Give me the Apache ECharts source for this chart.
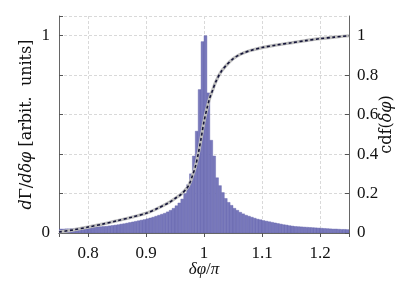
<!DOCTYPE html>
<html>
<head>
<meta charset="utf-8">
<script src="https://cdn.jsdelivr.net/npm/echarts@6/dist/echarts.min.js"></script>
<style>html,body{margin:0;padding:0;background:#fff}#c{width:408px;height:285px}</style>
</head>
<body>
<div id="c"></div>
<script>
// Histogram bin centres (δφ/π) and heights [arbit. units]
const binWidth = 0.005;
const binCenters = [
0.7525,0.7575,0.7625,0.7675,0.7725,0.7775,0.7825,0.7875,0.7925,0.7975,
0.8025,0.8075,0.8125,0.8175,0.8225,0.8275,0.8325,0.8375,0.8425,0.8475,
0.8525,0.8575,0.8625,0.8675,0.8725,0.8775,0.8825,0.8875,0.8925,0.8975,
0.9025,0.9075,0.9125,0.9175,0.9225,0.9275,0.9325,0.9375,0.9425,0.9475,
0.9525,0.9575,0.9625,0.9675,0.9725,0.9775,0.9825,0.9875,0.9925,0.9975,
1.0025,1.0075,1.0125,1.0175,1.0225,1.0275,1.0325,1.0375,1.0425,1.0475,
1.0525,1.0575,1.0625,1.0675,1.0725,1.0775,1.0825,1.0875,1.0925,1.0975,
1.1025,1.1075,1.1125,1.1175,1.1225,1.1275,1.1325,1.1375,1.1425,1.1475,
1.1525,1.1575,1.1625,1.1675,1.1725,1.1775,1.1825,1.1875,1.1925,1.1975,
1.2025,1.2075,1.2125,1.2175,1.2225,1.2275,1.2325,1.2375,1.2425,1.2475];
const binHeights = [
0.020,0.020,0.021,0.021,0.022,0.023,0.024,0.025,0.026,0.027,
0.028,0.029,0.030,0.031,0.032,0.033,0.034,0.036,0.038,0.040,
0.042,0.045,0.047,0.050,0.053,0.056,0.059,0.062,0.065,0.068,
0.072,0.076,0.080,0.085,0.090,0.095,0.100,0.107,0.115,0.125,
0.138,0.152,0.172,0.200,0.245,0.300,0.390,0.516,0.727,0.970,
1.000,0.710,0.470,0.390,0.280,0.240,0.205,0.175,0.155,0.140,
0.125,0.115,0.105,0.097,0.090,0.085,0.080,0.075,0.070,0.067,
0.063,0.060,0.057,0.054,0.051,0.048,0.045,0.042,0.040,0.037,
0.035,0.033,0.032,0.031,0.030,0.029,0.028,0.027,0.026,0.025,
0.024,0.023,0.022,0.021,0.020,0.020,0.019,0.018,0.018,0.017];
// cumulative distribution
const cdfX = [0.75,0.775,0.80,0.825,0.85,0.875,0.90,0.92,0.94,0.95,0.96,0.97,0.975,0.98,0.985,0.99,0.995,1.00,1.005,1.01,1.015,1.02,1.03,1.04,1.05,1.06,1.07,1.08,1.10,1.125,1.15,1.175,1.20,1.225,1.25];
const cdfY = [0.005,0.016,0.030,0.045,0.062,0.080,0.100,0.125,0.155,0.175,0.195,0.225,0.250,0.290,0.335,0.400,0.480,0.565,0.630,0.685,0.725,0.765,0.820,0.855,0.883,0.902,0.915,0.925,0.940,0.953,0.964,0.975,0.985,0.993,1.000];
const leftTickLabels = ['0','1'];

const FONT = '"Liberation Serif","DejaVu Serif",serif';
const NFONT = '"DejaVu Serif","Liberation Serif",serif';
const histData = binCenters.map((x,i)=>[x,binHeights[i]]);
const cdfData = cdfX.map((x,i)=>[x,cdfY[i]]);

const chart = echarts.init(document.getElementById('c'), null, {renderer:'canvas'});
const gridLine = {show:true, lineStyle:{color:'#d9d9d9', type:[3,2], width:1}};
const frame = {show:true, lineStyle:{color:'#666', width:1}};
const tick = {show:true, inside:true, length:4, lineStyle:{color:'#555'}};
chart.setOption({
  animation:false,
  grid:{left:59,right:59,top:16,bottom:52, containLabel:false, outerBoundsMode:'none'},
  xAxis:[{
    type:'value', min:0.75, max:1.25, splitNumber:5, position:'bottom',
    axisLine:frame, axisTick:tick, splitLine:gridLine,
    axisLabel:{showMinLabel:false, showMaxLabel:false, color:'#111', fontFamily:FONT, fontSize:17, margin:12,
      formatter:v=>String(+v.toFixed(2))},
    name:'{i|δφ}/{i|π}', nameLocation:'middle', nameGap:28, nameMoveOverlap:false,
    nameTextStyle:{color:'#111', fontFamily:FONT, fontSize:17, rich:{i:{fontStyle:'italic', fontFamily:FONT, fontSize:17, color:'#111'}}}
  },{
    type:'value', min:0.75, max:1.25, splitNumber:5, position:'top',
    axisLine:frame, axisTick:tick, splitLine:{show:false}, axisLabel:{show:false}
  }],
  yAxis:[{
    type:'value', min:0, max:1.1, interval:0.2, position:'left',
    axisLine:frame, axisTick:tick, splitLine:gridLine,
    axisLabel:{color:'#111', fontFamily:FONT, fontSize:17, margin:9,
      formatter:v=>{ if(Math.abs(v)<1e-9) return leftTickLabels[0]; if(Math.abs(v-1)<1e-9) return leftTickLabels[1]; return ''; }},
    name:'{i|d}Γ/{i|dδφ} [arbit.  units]', nameLocation:'middle', nameGap:24, nameRotate:90, nameMoveOverlap:false,
    nameTextStyle:{color:'#111', fontFamily:NFONT, fontSize:16, rich:{i:{fontStyle:'italic', fontFamily:NFONT, fontSize:16, color:'#111'}}}
  },{
    type:'value', min:0, max:1.1, interval:0.2, position:'right',
    axisLine:frame, axisTick:tick, splitLine:{show:false},
    axisLabel:{color:'#111', fontFamily:FONT, fontSize:17, margin:8, showMaxLabel:false,
      formatter:v=> v>1.05 ? '' : String(+v.toFixed(1))},
    name:'cdf({i|δφ})', nameLocation:'middle', nameGap:30, nameRotate:90, nameMoveOverlap:false,
    nameTextStyle:{color:'#111', fontFamily:NFONT, fontSize:16, rich:{i:{fontStyle:'italic', fontFamily:NFONT, fontSize:16, color:'#111'}}}
  }],
  series:[{
    type:'custom', xAxisIndex:0, yAxisIndex:0, data:histData, clip:true,
    renderItem:(params, api)=>{
      const x = api.value(0), v = api.value(1);
      const p0 = api.coord([x-binWidth/2, v]);
      const p1 = api.coord([x+binWidth/2, 0]);
      return {type:'rect', shape:{x:p0[0], y:p0[1], width:p1[0]-p0[0], height:p1[1]-p0[1]},
        style:{fill:'#7878bb', stroke:'#6060a8', lineWidth:0.4}};
    },
    z:2
  },{
    type:'line', xAxisIndex:0, yAxisIndex:1, data:cdfData, smooth:0.3, showSymbol:false,
    lineStyle:{color:'#bdbdbd', width:3.2}, z:3
  },{
    type:'line', xAxisIndex:0, yAxisIndex:1, data:cdfData, smooth:0.3, showSymbol:false,
    lineStyle:{color:'#15153a', width:1.6, type:[3,2.5]}, z:4
  }]
});
</script>
</body>
</html>
